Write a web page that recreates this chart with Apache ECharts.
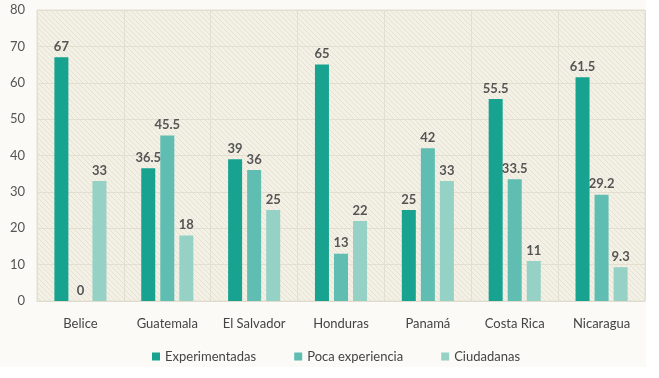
<!DOCTYPE html>
<html><head><meta charset="utf-8">
<script src="https://cdn.jsdelivr.net/npm/echarts@6/dist/echarts.min.js"></script>
<style>html,body{margin:0;padding:0;background:#fff;}#c{position:absolute;left:0;top:0;width:646px;height:367px;background:#fbfaf6;}</style>
</head><body><div id="c"></div>
<script>
const categories = ['Belice','Guatemala','El Salvador','Honduras','Panamá','Costa Rica','Nicaragua'];
const seriesNames = ['Experimentadas','Poca experiencia','Ciudadanas'];
const experimentadas = [67, 36.5, 39, 65, 25, 55.5, 61.5];
const pocaExperiencia = [0, 45.5, 36, 13, 42, 33.5, 29.2];
const ciudadanas = [33, 18, 25, 22, 33, 11, 9.3];
const yTicks = [0,10,20,30,40,50,60,70,80];

const pc = document.createElement('canvas');
pc.width = 5; pc.height = 5;
const g = pc.getContext('2d');
g.fillStyle = '#f3f0e6'; g.fillRect(0,0,5,5);
g.strokeStyle = '#e6e1d2'; g.lineWidth = 1;
g.beginPath(); g.moveTo(-1,-1); g.lineTo(6,6); g.stroke();
g.beginPath(); g.moveTo(-1,4); g.lineTo(1,6); g.stroke();
g.beginPath(); g.moveTo(4,-1); g.lineTo(6,1); g.stroke();

const chart = echarts.init(document.getElementById('c'));
const font = 'Lato, "Open Sans", sans-serif';
const colors = ['#17a390','#5fbdb1','#95d1c4'];
const lbl = {show:true, position:'top', distance:4, color:'#555', fontSize:13, fontWeight:'bold', fontFamily:font};
chart.setOption({
  animation:false,
  color: colors,
  grid:{left:37, right:1, top:10, bottom:66, show:true, backgroundColor:{image:pc, repeat:'repeat'}, borderColor:'#e3dfd0', borderWidth:1},
  legend:{top:345, left:147, itemWidth:8, itemHeight:8, itemGap:38, icon:'rect',
    textStyle:{color:'#444', fontSize:13, fontFamily:font}, data:seriesNames},
  xAxis:{type:'category', data:categories,
    axisLine:{lineStyle:{color:'#e0dccd'}}, axisTick:{show:false},
    splitLine:{show:true, lineStyle:{color:'#e3dfd0'}},
    axisLabel:{color:'#444', fontSize:13, margin:16, fontFamily:font}},
  yAxis:{type:'value', min:yTicks[0], max:yTicks[yTicks.length-1], interval:10,
    axisLine:{show:false}, axisTick:{show:false},
    splitLine:{lineStyle:{color:'#e3dfd0'}},
    axisLabel:{color:'#555', fontSize:13, margin:12, fontFamily:font}},
  series:[
    {name:seriesNames[0], type:'bar', data:experimentadas, barWidth:14, barGap:'36%', label:lbl},
    {name:seriesNames[1], type:'bar', data:pocaExperiencia, barWidth:14, barGap:'36%', label:lbl},
    {name:seriesNames[2], type:'bar', data:ciudadanas, barWidth:14, barGap:'36%', label:lbl}
  ]
});
</script></body></html>
